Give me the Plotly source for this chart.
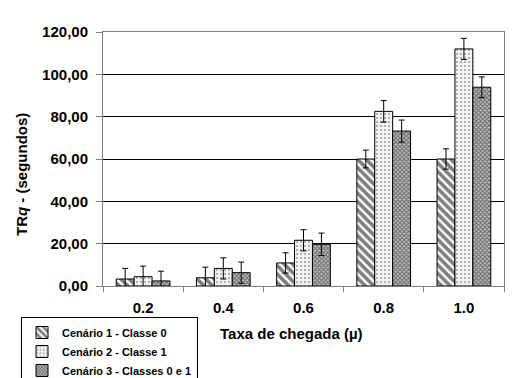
import plotly.graph_objects as go

categories = ["0.2", "0.4", "0.6", "0.8", "1.0"]
cen1 = [3.3, 3.9, 10.9, 60.0, 60.0]
cen2 = [4.4, 8.3, 21.6, 82.5, 112.0]
cen3 = [2.4, 6.3, 19.7, 73.2, 93.9]
err1 = [5.0, 5.0, 4.8, 4.2, 4.8]
err2 = [5.0, 5.0, 5.0, 5.1, 5.0]
err3 = [4.6, 5.0, 5.3, 5.2, 4.9]
names = ["Cenário 1 - Classe 0", "Cenário 2 - Classe 1", "Cenário 3 - Classes 0 e 1"]

# page body margin offsets the figure by 8 px
OFF = 8
W, H = 514 - OFF, 378 - OFF
pl, pr, pt, pb = 103, 504, 32, 286  # plot area in window pixels
L, R, T, B = pl - OFF, W - (pr - OFF), pt - OFF, H - (pb - OFF)
pw, ph = W - L - R, H - T - B

def px(x):
    return (x - OFF - L) / pw

def py(y):
    return (H - B - (y - OFF)) / ph

patterns = [
    dict(shape="\\", fgcolor="#000000", bgcolor="#ffffff", size=6, solidity=0.6),
    dict(shape=".", fgcolor="#444444", bgcolor="#f2f2f2", size=4, solidity=0.2),
    dict(shape="x", fgcolor="#111111", bgcolor="#c8c8c8", size=3, solidity=0.6),
]

fig = go.Figure()
for vals, errs, name, pat in zip([cen1, cen2, cen3], [err1, err2, err3], names, patterns):
    fig.add_trace(go.Bar(
        x=categories, y=vals, name=name,
        marker=dict(color="#ffffff", line=dict(color="#000000", width=1), pattern=pat),
        error_y=dict(type="data", array=errs, visible=True, color="#000000", thickness=1, width=3),
    ))

fig.update_layout(
    width=W, height=H,
    margin=dict(l=L, r=R, t=T, b=B, autoexpand=False),
    paper_bgcolor="#ffffff", plot_bgcolor="#ffffff",
    barmode="group", bargap=0.33, bargroupgap=0,
    separators=",.",
    font=dict(family="Liberation Sans, Arial", color="#000000"),
    showlegend=True,
    legend=dict(
        x=px(21), y=py(317), xanchor="left", yanchor="top",
        bordercolor="#000000", borderwidth=1, bgcolor="#ffffff",
        font=dict(size=11, family="Liberation Sans, Arial", weight="bold"),
        itemwidth=30, tracegroupgap=0,
    ),
    xaxis=dict(
        type="category", tickson="boundaries", ticks="outside", ticklen=5,
        tickcolor="#808080", showline=True, linecolor="#808080", mirror=True,
        tickfont=dict(size=15, family="Liberation Sans, Arial", weight="bold"),
        ticklabelstandoff=8, showgrid=False,
    ),
    yaxis=dict(
        range=[0, 120], dtick=20, tickformat=".2f",
        ticks="outside", ticklen=6, tickcolor="#808080",
        showline=True, linecolor="#808080", mirror=True,
        gridcolor="#000000", gridwidth=1,
        tickfont=dict(size=15, family="Liberation Sans, Arial", weight="bold"),
        ticklabelstandoff=5, zeroline=False,
    ),
    annotations=[
        dict(text="Taxa de chegada (µ)", x=px(291), y=py(333), xref="paper", yref="paper",
             xanchor="center", yanchor="middle",
             showarrow=False, font=dict(size=15, family="Liberation Sans, Arial", weight="bold")),
        dict(text="TR<i>q</i> - (segundos)", x=px(21), y=py(175), xref="paper", yref="paper",
             xanchor="center", yanchor="middle",
             textangle=-90, showarrow=False,
             font=dict(size=15, family="Liberation Sans, Arial", weight="bold")),
    ],
    shapes=[
        dict(type="rect", xref="paper", yref="paper", x0=px(5), x1=px(520), y0=py(385), y1=py(5),
             line=dict(color="#000000", width=1), layer="below"),
    ],
)

fig.write_html("out.html")
